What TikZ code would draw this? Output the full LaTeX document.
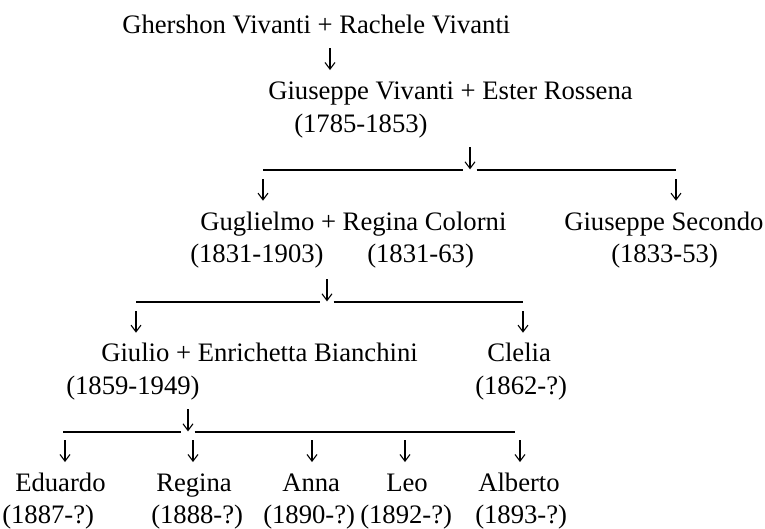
\documentclass[tikz,border=0pt]{standalone}
\usepackage{fontspec}
\setmainfont{Liberation Serif}
\usetikzlibrary{arrows.meta}
\begin{document}
\begin{tikzpicture}[x=0.75pt,y=-0.75pt,
  person/.style={anchor=base west, inner sep=0pt, font=\fontsize{20}{24}\selectfont},
  descent/.style={line width=0.8pt, -{Straight Barb[length=5pt,width=7.5pt]}},
  bar/.style={line width=0.8pt}]
\useasboundingbox (0,0) rectangle (765,529);
% first generation
\node (ghershon) at (122,33)[person]{Ghershon Vivanti + Rachele Vivanti};
\coordinate (a1t) at (330,48);
\coordinate (a1b) at (330,70);
\draw[descent] (a1t) -- (a1b);
\node (giuseppe) at (268,99)[person]{Giuseppe Vivanti + Ester Rossena};
\node (giuseppeD) at (294,132)[person]{(1785-1853)};
% children of Giuseppe
\coordinate (b1l) at (263,170);
\coordinate (b1m) at (470,170);
\coordinate (b1r) at (676,170);
\draw[bar] (b1l) -- ([xshift=-5pt]b1m);
\draw[bar] ([xshift=5pt]b1m) -- (b1r);
\draw[descent] ([yshift=17pt]b1m) -- ([yshift=0.5pt]b1m);
\draw[descent] ([yshift=-7pt]b1l) -- ([yshift=-23pt]b1l);
\draw[descent] ([yshift=-7pt]b1r) -- ([yshift=-23pt]b1r);
\node (guglielmo) at (200,230)[person]{Guglielmo + Regina Colorni};
\node (guglielmoD) at (190,262)[person]{(1831-1903)};
\node (reginaD) at (367,262)[person]{(1831-63)};
\node (secondo) at (564,230)[person]{Giuseppe Secondo};
\node (secondoD) at (611,262)[person]{(1833-53)};
% children of Guglielmo
\coordinate (b2l) at (136,302);
\coordinate (b2m) at (327,302);
\coordinate (b2r) at (523,302);
\draw[bar] (b2l) -- ([xshift=-5pt]b2m);
\draw[bar] ([xshift=5pt]b2m) -- (b2r);
\draw[descent] ([yshift=17pt]b2m) -- ([yshift=0.5pt]b2m);
\draw[descent] ([yshift=-7pt]b2l) -- ([yshift=-23pt]b2l);
\draw[descent] ([yshift=-7pt]b2r) -- ([yshift=-23pt]b2r);
\node (giulio) at (101,361)[person]{Giulio + Enrichetta Bianchini};
\node (giulioD) at (66,394)[person]{(1859-1949)};
\node (clelia) at (487,361)[person]{Clelia};
\node (cleliaD) at (475,394)[person]{(1862-?)};
% children of Giulio
\coordinate (b3l) at (63,432);
\coordinate (b3m) at (188,432);
\coordinate (b3r) at (515,432);
\draw[bar] (b3l) -- ([xshift=-5pt]b3m);
\draw[bar] ([xshift=5pt]b3m) -- (b3r);
\draw[descent] ([yshift=17pt]b3m) -- ([yshift=0.5pt]b3m);
\foreach \cx in {65,193,312,405,520}
  \draw[descent] (\cx,440) -- (\cx,462);
\node (eduardo) at (15,491)[person]{Eduardo};
\node (eduardoD) at (2,523)[person]{(1887-?)};
\node (regina) at (156,491)[person]{Regina};
\node (reginaB) at (151,523)[person]{(1888-?)};
\node (anna) at (282,491)[person]{Anna};
\node (annaD) at (263,523)[person]{(1890-?)};
\node (leo) at (386,491)[person]{Leo};
\node (leoD) at (360,523)[person]{(1892-?)};
\node (alberto) at (478,491)[person]{Alberto};
\node (albertoD) at (475,523)[person]{(1893-?)};
\end{tikzpicture}
\end{document}
